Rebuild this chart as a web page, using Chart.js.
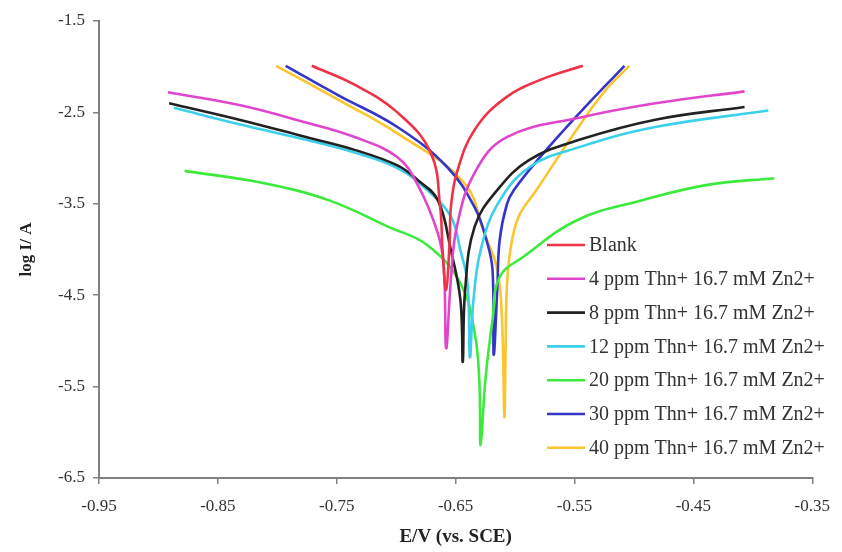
<!DOCTYPE html>
<html><head><meta charset="utf-8">
<script src="https://cdn.jsdelivr.net/npm/chart.js@4/dist/chart.umd.min.js"></script>
<style>html,body{margin:0;padding:0;background:#fff}#wrap{width:842px;height:552px}</style>
</head><body><div id="wrap"><canvas id="c" width="842" height="552"></canvas></div>
<script>
const seriesLabels = ["Blank","4 ppm Thn+ 16.7 mM Zn2+","8 ppm Thn+ 16.7 mM Zn2+","12 ppm Thn+ 16.7 mM Zn2+","20 ppm Thn+ 16.7 mM Zn2+","30 ppm Thn+ 16.7 mM Zn2+","40 ppm Thn+ 16.7 mM Zn2+"];
const seriesColors = ["#ef3347","#e046cc","#222222","#3cd0ea","#3cea3c","#3535c8","#fcc52e"];

const blankE    = [-0.771,-0.736,-0.699,-0.671,-0.663,-0.661,-0.658,-0.655,-0.654,-0.649,-0.634,-0.607,-0.574,-0.543];
const blankLogI = [-1.99,-2.19,-2.50,-2.94,-3.54,-4.01,-4.44,-3.90,-3.54,-3.16,-2.69,-2.33,-2.12,-1.99];

const ppm4E    = [-0.892,-0.832,-0.776,-0.735,-0.699,-0.682,-0.665,-0.660,-0.658,-0.654,-0.649,-0.634,-0.607,-0.543,-0.482,-0.407];
const ppm4LogI = [-2.28,-2.42,-2.61,-2.77,-2.99,-3.29,-3.82,-4.19,-5.08,-4.33,-3.75,-3.16,-2.77,-2.55,-2.40,-2.27];

const ppm8E    = [-0.891,-0.832,-0.776,-0.735,-0.699,-0.682,-0.665,-0.654,-0.646,-0.644,-0.642,-0.634,-0.615,-0.588,-0.546,-0.482,-0.407];
const ppm8LogI = [-2.40,-2.58,-2.77,-2.91,-3.08,-3.24,-3.46,-4.01,-4.55,-5.23,-4.44,-3.75,-3.35,-3.02,-2.80,-2.58,-2.44];

const ppm12E    = [-0.887,-0.832,-0.776,-0.735,-0.699,-0.674,-0.654,-0.646,-0.640,-0.638,-0.635,-0.629,-0.615,-0.588,-0.546,-0.482,-0.387];
const ppm12LogI = [-2.45,-2.63,-2.80,-2.94,-3.11,-3.35,-3.64,-4.01,-4.37,-5.18,-4.55,-4.01,-3.51,-3.10,-2.88,-2.66,-2.48];

const ppm20E    = [-0.878,-0.813,-0.757,-0.707,-0.674,-0.646,-0.634,-0.630,-0.629,-0.625,-0.619,-0.613,-0.593,-0.548,-0.493,-0.437,-0.382];
const ppm20LogI = [-3.14,-3.27,-3.46,-3.75,-3.95,-4.37,-4.91,-5.46,-6.14,-5.43,-4.77,-4.30,-4.08,-3.68,-3.46,-3.29,-3.22];

const ppm30E    = [-0.793,-0.749,-0.699,-0.657,-0.634,-0.624,-0.619,-0.618,-0.615,-0.613,-0.607,-0.601,-0.579,-0.546,-0.508];
const ppm30LogI = [-1.99,-2.31,-2.66,-3.10,-3.54,-3.90,-4.22,-5.15,-4.44,-3.90,-3.51,-3.35,-2.99,-2.51,-1.99];

const ppm40E    = [-0.801,-0.749,-0.699,-0.643,-0.626,-0.615,-0.611,-0.609,-0.608,-0.607,-0.604,-0.597,-0.582,-0.554,-0.526,-0.504];
const ppm40LogI = [-1.99,-2.36,-2.73,-3.27,-3.82,-4.22,-4.77,-5.83,-5.10,-4.44,-4.01,-3.64,-3.35,-2.80,-2.29,-1.99];

const xTickValues = [-0.95,-0.85,-0.75,-0.65,-0.55,-0.45,-0.35];
const yTickValues = [-6.5,-5.5,-4.5,-3.5,-2.5,-1.5];

const seriesE = [blankE, ppm4E, ppm8E, ppm12E, ppm20E, ppm30E, ppm40E];
const seriesLogI = [blankLogI, ppm4LogI, ppm8LogI, ppm12LogI, ppm20LogI, ppm30LogI, ppm40LogI];

const datasets = seriesLabels.map((lab, i) => ({
  label: lab,
  data: seriesE[i].map((e, j) => ({x: e, y: seriesLogI[i][j]})),
  borderColor: seriesColors[i],
  backgroundColor: seriesColors[i],
  borderWidth: 2.6,
  pointRadius: 0,
  fill: false,
  tension: 0.4
}));

const legendPlugin = {
  id: 'insideLegend',
  afterDraw(chart) {
    const ctx = chart.ctx;
    ctx.save();
    ctx.font = '20px "Liberation Serif", "Times New Roman", serif';
    ctx.textBaseline = 'middle';
    ctx.textAlign = 'left';
    chart.data.datasets.forEach((ds, i) => {
      const y = 245 + i * 33.8;
      ctx.strokeStyle = ds.borderColor;
      ctx.lineWidth = 2.6;
      ctx.beginPath();
      ctx.moveTo(547, y);
      ctx.lineTo(585, y);
      ctx.stroke();
      ctx.fillStyle = '#333';
      ctx.fillText(ds.label, 589, y + 1);
    });
    ctx.restore();
  }
};

new Chart(document.getElementById('c'), {
  type: 'line',
  data: { datasets },
  plugins: [legendPlugin],
  options: {
    responsive: false,
    animation: false,
    devicePixelRatio: 1,
    layout: { padding: { top: 21, right: 24, left: 0, bottom: 0 } },
    plugins: { legend: { display: false }, tooltip: { enabled: false } },
    scales: {
      x: {
        type: 'linear',
        min: -0.95, max: -0.35,
        afterFit(s) { s.height = 74; },
        afterBuildTicks(s) { s.ticks = xTickValues.map(v => ({value: v})); },
        border: { display: true, color: '#808080', width: 2 },
        grid: { drawOnChartArea: false, drawTicks: true, tickLength: 6, color: '#808080', lineWidth: 1.5 },
        ticks: { padding: 12, color: '#333', font: { family: '"Liberation Serif", serif', size: 17 }, callback: v => v.toFixed(2), maxRotation: 0 },
        title: { display: true, text: 'E/V (vs. SCE)', color: '#222', font: { family: '"Liberation Serif", serif', size: 19, weight: 'bold' }, padding: { top: 0, bottom: 4 } }
      },
      y: {
        type: 'linear',
        min: -6.5, max: -1.5,
        afterFit(s) { s.width = 99; },
        afterBuildTicks(s) { s.ticks = yTickValues.map(v => ({value: v})); },
        border: { display: true, color: '#808080', width: 2 },
        grid: { drawOnChartArea: false, drawTicks: true, tickLength: 6, color: '#808080', lineWidth: 1.5 },
        ticks: { padding: 8, color: '#333', font: { family: '"Liberation Serif", serif', size: 17 }, callback: v => v.toFixed(1) },
        title: { display: true, text: 'log I/ A', color: '#222', font: { family: '"Liberation Serif", serif', size: 17, weight: 'bold' }, padding: { top: 16, bottom: 0 } }
      }
    }
  }
});
</script></body></html>
